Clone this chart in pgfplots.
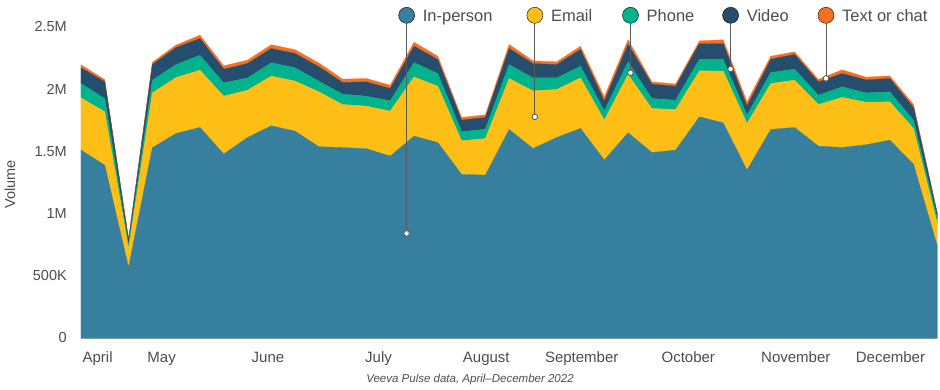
\documentclass[border=0pt]{standalone}
\usepackage{fontspec}
\setmainfont{Liberation Sans}
\usepackage{pgfplots}
\usepackage{pgfplotstable}
\pgfplotsset{compat=1.18}
\definecolor{cIn}{HTML}{367F9F}
\definecolor{cEm}{HTML}{FDBE15}
\definecolor{cPh}{HTML}{00B38D}
\definecolor{cVi}{HTML}{244D6E}
\definecolor{cTx}{HTML}{F8701F}
\definecolor{txt}{HTML}{4D4D4D}
\definecolor{lead}{HTML}{5A5A5A}
\definecolor{base}{HTML}{8FAE8F}
\pgfplotstableread{
x ip em ph vi tx
0 1.509 0.420 0.115 0.126 0.024
1 1.388 0.429 0.106 0.134 0.018
2 0.568 0.152 0.025 0.040 0.015
3 1.528 0.441 0.102 0.125 0.018
4 1.643 0.449 0.104 0.137 0.020
5 1.691 0.460 0.120 0.134 0.027
6 1.477 0.465 0.107 0.110 0.027
7 1.610 0.380 0.099 0.115 0.027
8 1.704 0.399 0.107 0.115 0.030
9 1.661 0.402 0.107 0.115 0.030
10 1.536 0.441 0.086 0.115 0.030
11 1.530 0.345 0.083 0.094 0.027
12 1.520 0.342 0.080 0.115 0.027
13 1.461 0.361 0.083 0.099 0.026
14 1.621 0.476 0.115 0.131 0.032
15 1.570 0.452 0.102 0.112 0.027
16 1.314 0.270 0.072 0.094 0.021
17 1.308 0.294 0.075 0.094 0.021
18 1.675 0.409 0.112 0.129 0.032
19 1.522 0.463 0.104 0.115 0.022
20 1.610 0.386 0.093 0.107 0.022
21 1.683 0.406 0.094 0.134 0.026
22 1.429 0.321 0.075 0.077 0.035
23 1.648 0.468 0.102 0.142 0.035
24 1.490 0.353 0.080 0.116 0.018
25 1.509 0.326 0.075 0.112 0.018
26 1.776 0.370 0.093 0.126 0.021
27 1.728 0.415 0.094 0.128 0.030
28 1.348 0.375 0.067 0.072 0.035
29 1.675 0.369 0.088 0.107 0.024
30 1.691 0.380 0.088 0.118 0.021
31 1.541 0.334 0.075 0.107 0.019
32 1.530 0.402 0.085 0.107 0.030
33 1.552 0.342 0.074 0.105 0.022
34 1.589 0.308 0.080 0.107 0.021
35 1.396 0.287 0.067 0.101 0.024
36 0.740 0.180 0.040 0.035 0.012
}\datatable
\begin{document}
\begin{tikzpicture}
\useasboundingbox (0,0) rectangle (940pt,389pt);
\pgfplotsset{frame/.style={
  at={(81pt,51pt)}, anchor=south west,
  scale only axis, width=856.3pt, height=311.3pt,
  xmin=0, xmax=36, ymin=0, ymax=2.5,
  enlargelimits=false, clip=false}}
\begin{axis}[
  frame,
  axis x line*=bottom, axis y line*=left,
  x axis line style={draw=base, line width=0.8pt},
  y axis line style={draw=none},
  major tick length=0pt, tick style={draw=none},
  ytick={0,0.5,1,1.5,2,2.5},
  yticklabels={0,500K,1M,1.5M,2M,2.5M},
  yticklabel style={font=\fontsize{14.5}{16}\selectfont, text=txt, anchor=east, inner sep=0pt, xshift=-14pt},
  xtick={0.7,3.39,7.86,12.51,17.04,21.05,25.53,30.05,34.03},
  xticklabels={April,May,June,July,August,September,October,November,December},
  xticklabel style={font=\fontsize{15}{17}\selectfont, text=txt, anchor=base, inner sep=0pt, yshift=-24.3pt},
  ylabel={Volume},
  every axis y label/.style={at={(axis description cs:-0.0829,0.4926)}, rotate=90, anchor=center, font=\fontsize{14.5}{16}\selectfont, text=txt},
  xlabel={Veeva Pulse data, April–December 2022},
  every axis x label/.style={at={(axis description cs:0.4543,-0.1348)}, anchor=center, font=\fontsize{11.5}{13}\selectfont\itshape, text=txt},
  stack plots=y,
]
\addplot[fill=cIn, draw=cIn, line width=0.3pt] table[x=x, y=ip] {\datatable} \closedcycle;
\addplot[fill=cEm, draw=cEm, line width=0.3pt] table[x=x, y=em] {\datatable} \closedcycle;
\addplot[fill=cPh, draw=cPh, line width=0.3pt] table[x=x, y=ph] {\datatable} \closedcycle;
\addplot[fill=cVi, draw=cVi, line width=0.3pt] table[x=x, y=vi] {\datatable} \closedcycle;
\addplot[fill=cTx, draw=cTx, line width=0.3pt] table[x=x, y=tx] {\datatable} \closedcycle;
\end{axis}
\begin{axis}[frame, hide axis]
% leader lines
\addplot[lead, line width=0.9pt] coordinates {(13.69,0.84) (13.69,2.5915)};
\addplot[lead, line width=0.9pt] coordinates {(19.08,1.776) (19.08,2.5915)};
\addplot[lead, line width=0.9pt] coordinates {(23.10,2.13) (23.10,2.5915)};
\addplot[lead, line width=0.9pt] coordinates {(27.31,2.16) (27.31,2.5915)};
\addplot[lead, line width=0.9pt] coordinates {(31.32,2.085) (31.32,2.5915)};
% annotation dots
\addplot[only marks, mark=*, mark size=2.8pt, mark options={fill=white, draw=lead, line width=0.9pt}] coordinates {(13.69,0.84) (19.08,1.776) (23.10,2.13) (27.31,2.16) (31.32,2.085)};
% legend circles
\addplot[only marks, mark=*, mark size=8pt, mark options={fill=cIn, draw=none}] coordinates {(13.69,2.5915)};
\addplot[only marks, mark=*, mark size=8pt, mark options={fill=cEm, draw=none}] coordinates {(19.08,2.5915)};
\addplot[only marks, mark=*, mark size=8pt, mark options={fill=cPh, draw=none}] coordinates {(23.10,2.5915)};
\addplot[only marks, mark=*, mark size=8pt, mark options={fill=cVi, draw=none}] coordinates {(27.31,2.5915)};
\addplot[only marks, mark=*, mark size=8pt, mark options={fill=cTx, draw=none}] coordinates {(31.32,2.5915)};
\begin{scope}[every node/.style={anchor=base west, inner sep=0pt, xshift=16pt, yshift=-6pt, font=\fontsize{16.5}{18}\selectfont, text=txt}]
\node at (axis cs:13.69,2.5915) {In-person};
\node at (axis cs:19.08,2.5915) {Email};
\node at (axis cs:23.10,2.5915) {Phone};
\node at (axis cs:27.31,2.5915) {Video};
\node at (axis cs:31.32,2.5915) {Text or chat};
\end{scope}
\end{axis}
\end{tikzpicture}
\end{document}
